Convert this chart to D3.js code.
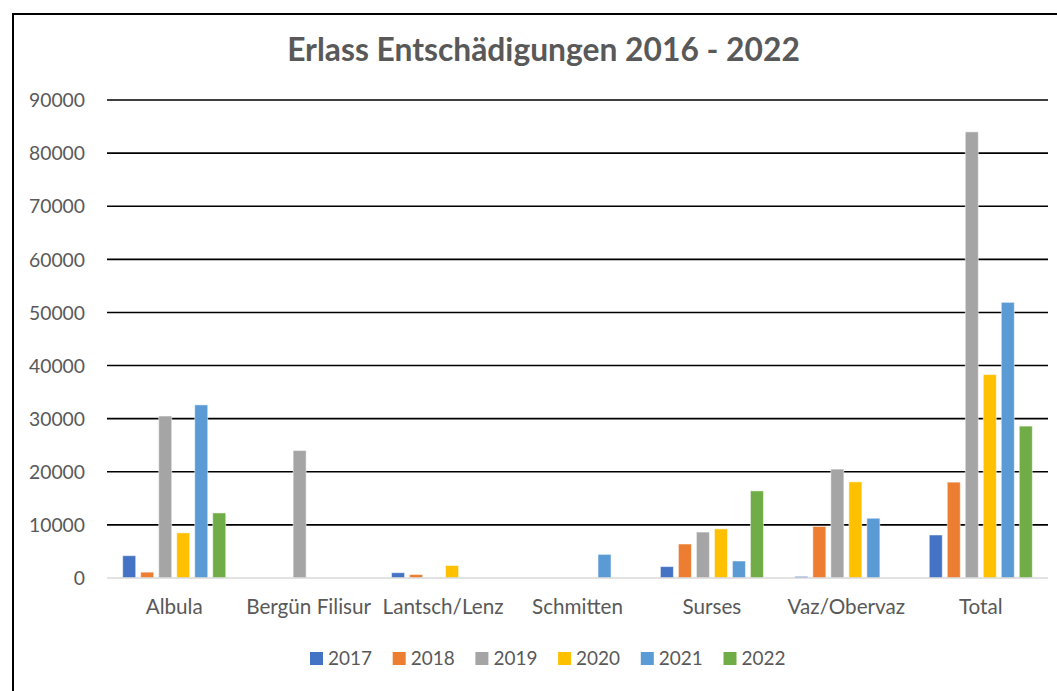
<!DOCTYPE html>
<html>
<head>
<meta charset="utf-8">
<script src="https://cdn.jsdelivr.net/npm/d3@7"></script>
<style>
  html, body { margin: 0; padding: 0; background: #fff; }
  svg { display: block; }
  text { font-family: Lato, "Open Sans", sans-serif; }
</style>
</head>
<body>
<div id="chart"></div>
<script>
const categories = ["Albula", "Bergün Filisur", "Lantsch/Lenz", "Schmitten", "Surses", "Vaz/Obervaz", "Total"];
const years = ["2017", "2018", "2019", "2020", "2021", "2022"];
const v2017 = [4200, 0, 1000, 0, 2150, 300, 8100];
const v2018 = [1100, 0, 650, 0, 6400, 9700, 18050];
const v2019 = [30500, 24000, 0, 0, 8650, 20500, 84000];
const v2020 = [8500, 0, 2350, 0, 9250, 18100, 38300];
const v2021 = [32600, 0, 0, 4450, 3200, 11250, 51900];
const v2022 = [12250, 0, 0, 0, 16400, 0, 28600];
const yTicks = [0, 10000, 20000, 30000, 40000, 50000, 60000, 70000, 80000, 90000];
const colors = ["#4472C4", "#ED7D31", "#A5A5A5", "#FFC000", "#5B9BD5", "#70AD47"];
const title = "Erlass Entschädigungen 2016 - 2022";

const series = [v2017, v2018, v2019, v2020, v2021, v2022];

(function () {
const W = 1057, H = 691;
const svg = d3.select("#chart").append("svg").attr("width", W).attr("height", H);

// font size such that a sample string gets a given width
function fitSize(sample, target, weight) {
  const t = svg.append("text").style("font-size", "20px").style("font-weight", weight || "normal").text(sample);
  const w = t.node().getComputedTextLength();
  t.remove();
  return w > 0 ? 20 * target / w : 20;
}
const titleSize = fitSize(title, 513, "bold");
const yLabSize = fitSize("90000", 56);
const xLabSize = fitSize("Bergün Filisur", 125);
const legSize = fitSize("2017", 44);

svg.append("rect").attr("width", W).attr("height", H).attr("fill", "#fff");
// outer chart border (extends past right/bottom of viewport)
svg.append("rect").attr("x", 13).attr("y", 14).attr("width", W + 20).attr("height", H + 20)
  .attr("fill", "none").attr("stroke", "#000").attr("stroke-width", 2);

const pLeft = 107, pRight = 1048, pTop = 100, pBottom = 578;

const x0 = d3.scaleBand().domain(categories).range([pLeft, pRight]).paddingInner(0.226).paddingOuter(0.113);
const x1 = d3.scaleBand().domain(years).range([0, x0.bandwidth()]).paddingInner(0.222).paddingOuter(0);
const y = d3.scaleLinear().domain([0, 90000]).range([pBottom, pTop]);

// gridlines
svg.append("g").selectAll("line").data(yTicks.filter(d => d > 0)).join("line")
  .attr("x1", pLeft).attr("x2", pRight)
  .attr("y1", d => y(d)).attr("y2", d => y(d))
  .attr("stroke", "#000").attr("stroke-width", 1.6);

// y axis labels
const yAxis = d3.axisLeft(y).tickValues(yTicks).tickSize(0).tickPadding(0).tickFormat(d3.format("d"));
const gy = svg.append("g").attr("transform", `translate(${85},0)`).call(yAxis);
gy.select(".domain").remove();
gy.selectAll("text").attr("fill", "#595959").style("font-size", yLabSize + "px").attr("dy", "0.35em");

// bars
const groups = svg.append("g").selectAll("g").data(categories).join("g")
  .attr("transform", d => `translate(${x0(d)},0)`);
groups.selectAll("rect").data((c, ci) => years.map((yr, si) => ({ yr, si, v: series[si][ci] })).filter(d => d.v > 0))
  .join("rect")
  .attr("x", d => x1(d.yr) + 0.5)
  .attr("width", x1.bandwidth() - 1)
  .attr("y", d => y(d.v))
  .attr("height", d => y(0) - y(d.v))
  .attr("fill", d => colors[d.si])
  .attr("stroke", "#fff").attr("stroke-opacity", 0.5).attr("stroke-width", 1);

// baseline
svg.append("line").attr("x1", pLeft).attr("x2", pRight).attr("y1", y(0)).attr("y2", y(0))
  .attr("stroke", "#d9d9d9").attr("stroke-width", 1.5);

// x axis labels
const xAxis = d3.axisBottom(x0).tickSize(0).tickPadding(0);
const gx = svg.append("g").attr("transform", `translate(0,${614})`).call(xAxis);
gx.select(".domain").remove();
gx.selectAll("text").attr("fill", "#595959").style("font-size", xLabSize + "px").attr("dy", 0).attr("y", 0);

// title
svg.append("text").attr("x", 543.5).attr("y", 61).attr("text-anchor", "middle")
  .attr("fill", "#595959").style("font-size", titleSize + "px").style("font-weight", "bold").text(title);

// legend
const legStart = 310, legStep = 82.7;
const leg = svg.append("g").selectAll("g").data(years).join("g")
  .attr("transform", (d, i) => `translate(${legStart + i * legStep},${652})`);
leg.append("rect").attr("width", 13).attr("height", 13).attr("fill", (d, i) => colors[i]);
leg.append("text").attr("x", 18).attr("y", 13).attr("fill", "#595959").style("font-size", legSize + "px").text(d => d);
})();
</script>
</body>
</html>
